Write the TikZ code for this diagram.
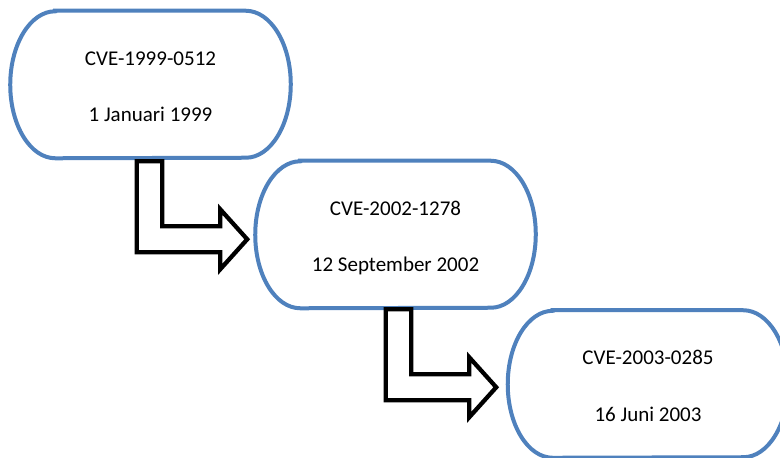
\documentclass[tikz,border=0pt]{standalone}
\usepackage{fontspec}
\setmainfont{Carlito}
\usetikzlibrary{calc}
\definecolor{boxblue}{RGB}{79,129,189}
\newcommand\termoutline[1]{%
  \draw[boxline] ($(#1.north west)+(45,0)$) -- ($(#1.north east)+(-45,0)$)
    arc[start angle=-90,end angle=90,x radius=45,y radius=73.5]
    -- ($(#1.south west)+(45,0)$)
    arc[start angle=90,end angle=270,x radius=45,y radius=73.5] -- cycle;}
\begin{document}
\begin{tikzpicture}[x=0.75pt,y=-0.75pt,
  termbox/.style={inner sep=0pt,minimum width=210pt,minimum height=110.25pt},
  boxline/.style={draw=boxblue,line width=3pt,fill=white},
  lbl/.style={anchor=base,inner sep=0pt,font=\fontsize{15.75}{19}\selectfont},
  arrowline/.style={draw=black,line width=3.2pt,fill=white,line join=miter,miter limit=10},
  pics/bentarrow/.style={code={
    \draw[arrowline] (0,0) -- (25.5,0) -- (25.5,65) -- (83.5,65) -- (83.5,48)
      -- (110.5,78) -- (83.5,108) -- (83.5,91) -- (0,91) -- cycle;}}]
\useasboundingbox (0,0) rectangle (780,457);
\clip (0,0) rectangle (780,457);
% boxes
\node[termbox] (b1) at (150.5,84.5) {};
\node[termbox] (b2) at (395.5,234.5) {};
\node[termbox] (b3) at (648,384) {};
\termoutline{b1}
\termoutline{b2}
\termoutline{b3}
% texts
\node[lbl] (t1a) at ($(b1)+(0,-19.5)$) {CVE-1999-0512};
\node[lbl] (t1b) at ($(b1)+(0,37)$) {1 Januari 1999};
\node[lbl] (t2a) at ($(b2)+(0,-19.5)$) {CVE-2002-1278};
\node[lbl] (t2b) at ($(b2)+(0,37)$) {12 September 2002};
\node[lbl] (t3a) at ($(b3)+(0,-19.5)$) {CVE-2003-0285};
\node[lbl] (t3b) at ($(b3)+(0,37)$) {16 Juni 2003};
% bent arrows
\coordinate (a1) at ($(b1.south west)+(126.5,3)$);
\coordinate (a2) at ($(b2.south west)+(130.5,1)$);
\pic at (a1) {bentarrow};
\pic at (a2) {bentarrow};
\end{tikzpicture}
\end{document}
